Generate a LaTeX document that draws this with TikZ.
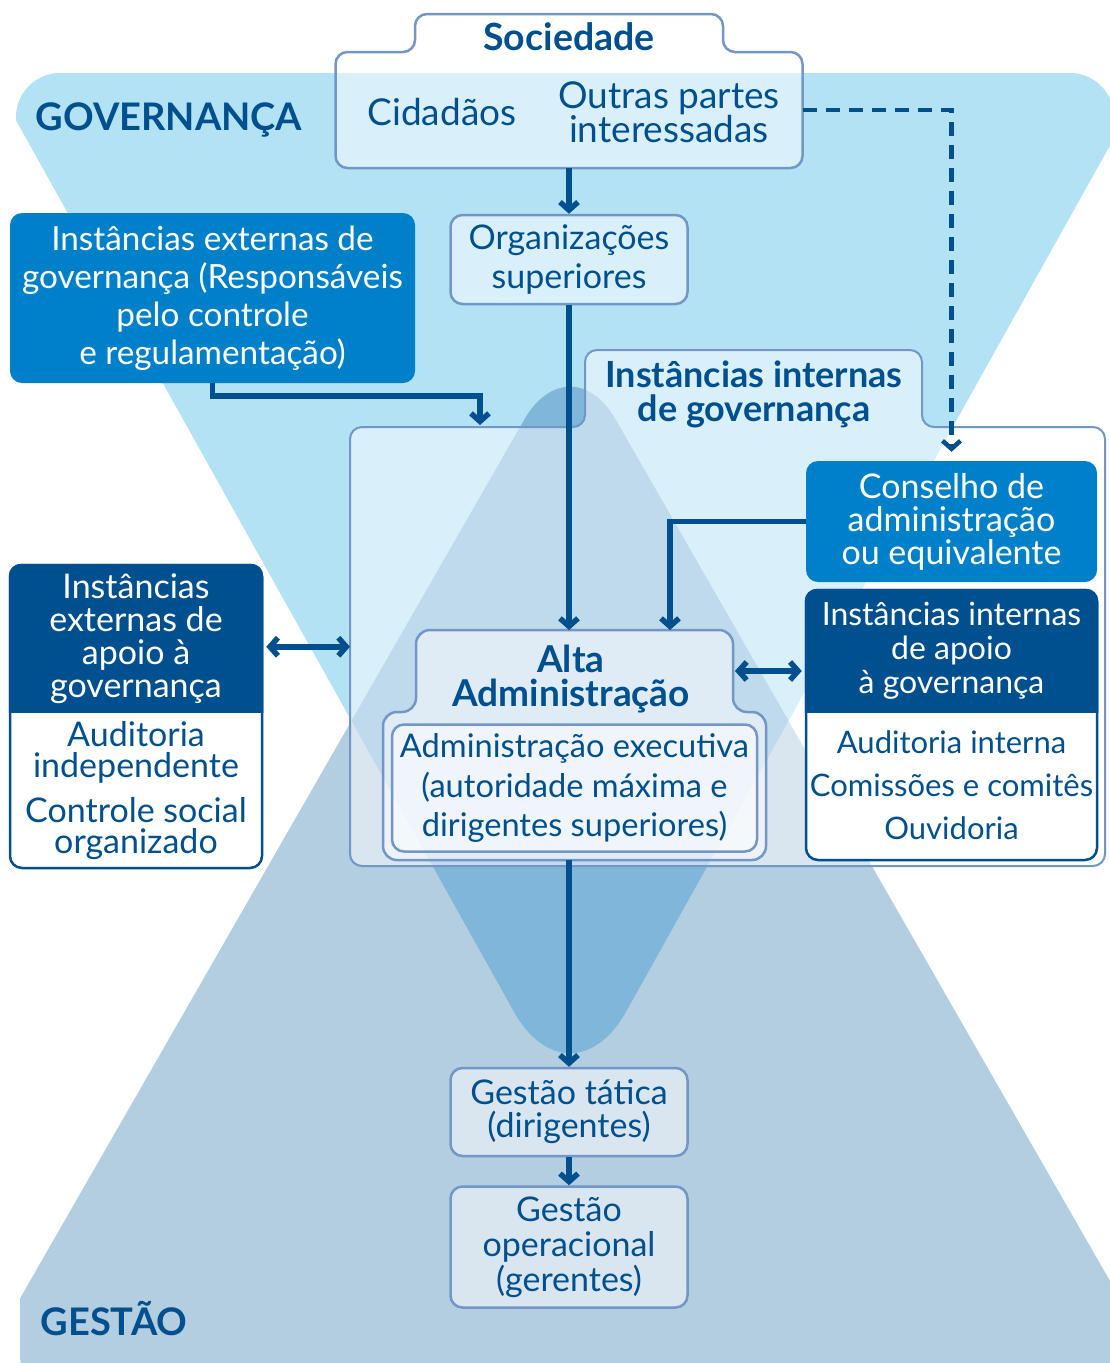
\documentclass[tikz,border=0pt]{standalone}
\usepackage{fontspec}
\setmainfont{Lato}
\usetikzlibrary{calc,arrows.meta}

\definecolor{govbg}{HTML}{B3E2F5}
\definecolor{gesbg}{HTML}{B3CDE1}
\definecolor{overlap}{HTML}{80B6DA}
\definecolor{txtblue}{HTML}{00508F}
\definecolor{darkblue}{HTML}{004F8F}
\definecolor{midblue}{HTML}{0080C8}
\definecolor{lineblue}{HTML}{7396C6}

\begin{document}
\begin{tikzpicture}[x=1pt, y=-1pt,
    area/.style={inner sep=0pt, outer sep=0pt},
    lightbox/.style={draw=lineblue, line width=2.5pt, fill=white, fill opacity=0.5, text opacity=1, rounded corners=12pt, text=txtblue, align=center},
    midbox/.style={fill=midblue, rounded corners=12pt, text=white, align=center},
    apoio/.style={draw=darkblue, line width=2.5pt, fill=white, rounded corners=12pt},
    txt/.style={font=\fontsize{34pt}{#1}\selectfont, align=center},
    txt/.default=38pt,
    heading/.style={font=\bfseries\fontsize{36pt}{34pt}\selectfont, text=txtblue, align=center},
    arr/.style={draw=darkblue, line width=5.5pt, -{Straight Barb[length=8pt, width=18pt]}},
    dblarr/.style={arr, {Straight Barb[length=8pt, width=18pt]}-{Straight Barb[length=8pt, width=18pt]}},
]
% Variables: 1 := center, 2 := ID, 3 := size, 5 := header height.
\def\apoiobox(#1)#2(#3,#4)#5{
    \node[apoio, minimum width=#3, minimum height=#4] (#2) at (#1) {};
    \begin{scope}
        \clip (#2.north west) rectangle ($(#2.north east)+(0,#5)$);
        \fill[darkblue, rounded corners=12pt] (#2.south west) rectangle (#2.north east);
    \end{scope}
    \coordinate (#2 head) at ($(#2.north)+(0,#5/2)$);
    \coordinate (#2 body) at ($(#2.south)!0.5!(#2.north)+(0,#5/2)$);
}
\useasboundingbox (0,0) rectangle (1110,1363);
\clip (0,0) rectangle (1110,1363);

% backgrounds
\begin{scope}
    \clip[rounded corners=44pt] (16,73) rectangle (1114,1450);
    \fill[govbg, rounded corners=115pt] (570,-200) -- (1303,-200) -- (570,1112) -- (-163,-200) -- cycle;
\end{scope}
\begin{scope}
    \clip[rounded corners=40pt] (20,0) rectangle (1118,1395);
    \fill[gesbg, rounded corners=92pt] (570,1450) -- (1207,1450) -- (570,340) -- (-67,1450) -- cycle;
\end{scope}
\begin{scope}
    \clip[rounded corners=92pt] (570,1450) -- (1207,1450) -- (570,340) -- (-67,1450) -- cycle;
    \fill[overlap, rounded corners=115pt] (570,-200) -- (1303,-200) -- (570,1112) -- (-163,-200) -- cycle;
\end{scope}
\node[heading, font=\bfseries\fontsize{38pt}{38pt}\selectfont, anchor=base] (gov) at (169,130) {GOVERNANÇA};
\node[heading, font=\bfseries\fontsize{38pt}{38pt}\selectfont, anchor=base] (ges) at (114,1335) {GESTÃO};

% Sociedade
\node[area, minimum width=467pt, minimum height=116pt] (socbox) at (569,110) {};
\node[area, minimum width=308pt, minimum height=38pt] (soctab) at (569,33) {};
\draw[lightbox] (socbox.south west) -- (socbox.north west) -- (soctab.south west) -- (soctab.north west)
    -- (soctab.north east) -- (soctab.south east) -- (socbox.north east) -- (socbox.south east) -- cycle;
\node[heading, font=\bfseries\fontsize{37.5pt}{34pt}\selectfont, anchor=base] (soc) at (569,50) {Sociedade};
\node[txt, font=\fontsize{37pt}{34pt}\selectfont, text=txtblue, anchor=base] (cid) at (442,125) {Cidadãos};
\node[txt, font=\fontsize{37pt}{34pt}\selectfont, text=txtblue] (outras) at (669,112) {Outras partes\\interessadas};

\node[midbox, txt, font=\fontsize{33.3pt}{38pt}\selectfont, minimum width=405pt, minimum height=170pt] (extgov) at (212.5,298) {Instâncias externas de\\governança (Responsáveis\\pelo controle\\e regulamentação)};
\node[lightbox, txt=39pt, minimum width=237pt, minimum height=89pt] (orgsup) at (569,259.5) {Organizações\\superiores};

% Instancias internas de governanca
\node[area, minimum width=755pt, minimum height=439pt] (intgov) at (727.5,646.5) {};
\node[area, minimum width=337pt, minimum height=77pt] (intgovtab) at (753.5,388.5) {};
\draw[lightbox, line width=2pt] (intgov.south west) -- (intgov.north west) -- (intgovtab.south west) -- (intgovtab.north west)
    -- (intgovtab.north east) -- (intgovtab.south east) -- (intgov.north east) -- (intgov.south east) -- cycle;
\node[heading] (intgov title) at (754,394) {Instâncias internas\\de governança};

\node[midbox, txt=33pt, minimum width=291pt, minimum height=121pt] (conselho) at (951.5,521.5) {Conselho de\\administração\\ou equivalente};
\apoiobox(951.5,725){intapoio}(291pt,270pt){124}
\node[txt, font=\fontsize{32pt}{34pt}\selectfont, text=white] (intapoio title) at (intapoio head) {Instâncias internas\\de apoio\\à governança};
\node[txt, font=\fontsize{31pt}{43pt}\selectfont, text=txtblue] (intapoio list) at ($(intapoio body)+(0,-2)$) {Auditoria interna\\Comissões e comitês\\Ouvidoria};
\apoiobox(136,716.5){extapoio}(252pt,303pt){149}
\node[txt=33pt, text=white] (extapoio title) at (extapoio head) {Instâncias\\externas de\\apoio à\\governança};
\node[txt=31pt, text=txtblue] (extapoio list) at (extapoio body) {Auditoria\\independente\\[14pt]Controle social\\organizado};

% Alta Administracao
\node[area, minimum width=383pt, minimum height=148pt] (alta) at (574.5,786) {};
\node[area, minimum width=317pt, minimum height=82pt] (altatab) at (574.5,671) {};
\draw[lightbox, rounded corners=14pt] (alta.south west) -- (alta.north west) -- (altatab.south west) -- (altatab.north west)
    -- (altatab.north east) -- (altatab.south east) -- (alta.north east) -- (alta.south east) -- cycle;
\node[heading, font=\bfseries\fontsize{37pt}{34pt}\selectfont] (alta title) at (571,679) {Alta\\Administração};
\node[lightbox, txt, font=\fontsize{32.6pt}{39.5pt}\selectfont, minimum width=365pt, minimum height=127pt] (exec) at (574.5,788) {Administração executiva\\(autoridade máxima e\\dirigentes superiores)};

\node[lightbox, txt=33pt, minimum width=237pt, minimum height=88pt] (gtat) at (569,1112) {Gestão tática\\(dirigentes)};
\node[lightbox, txt=35pt, minimum width=237pt, minimum height=121pt] (gop) at (569,1247) {Gestão\\operacional\\(gerentes)};

% connectors
\coordinate (govin) at (480,425);
\draw[arr] (socbox.south) -- (orgsup.north);
\draw[arr] (orgsup.south) -- (orgsup.south |- altatab.north);
\draw[arr] (extgov.south) -- ++(0,13) -| (govin);
\draw[arr, line width=4.5pt, dash pattern=on 14pt off 9pt] (socbox.east) -| ($(conselho.north)+(0,-9)$);
\draw[arr] (conselho.west) -| ($(altatab.north)+(95.5,0)$);
\draw[dblarr] ($(extapoio.north east)+(3,83)$) coordinate (extlink) -- (intgov.west |- extlink);
\draw[dblarr] ($(altatab.east)+(2,0)$) -- ($(intapoio.west |- altatab.east)+(-3,0)$);
\draw[arr] (alta.south -| gtat.north) -- (gtat.north);
\draw[arr] (gtat.south) -- (gop.north);
\end{tikzpicture}
\end{document}
